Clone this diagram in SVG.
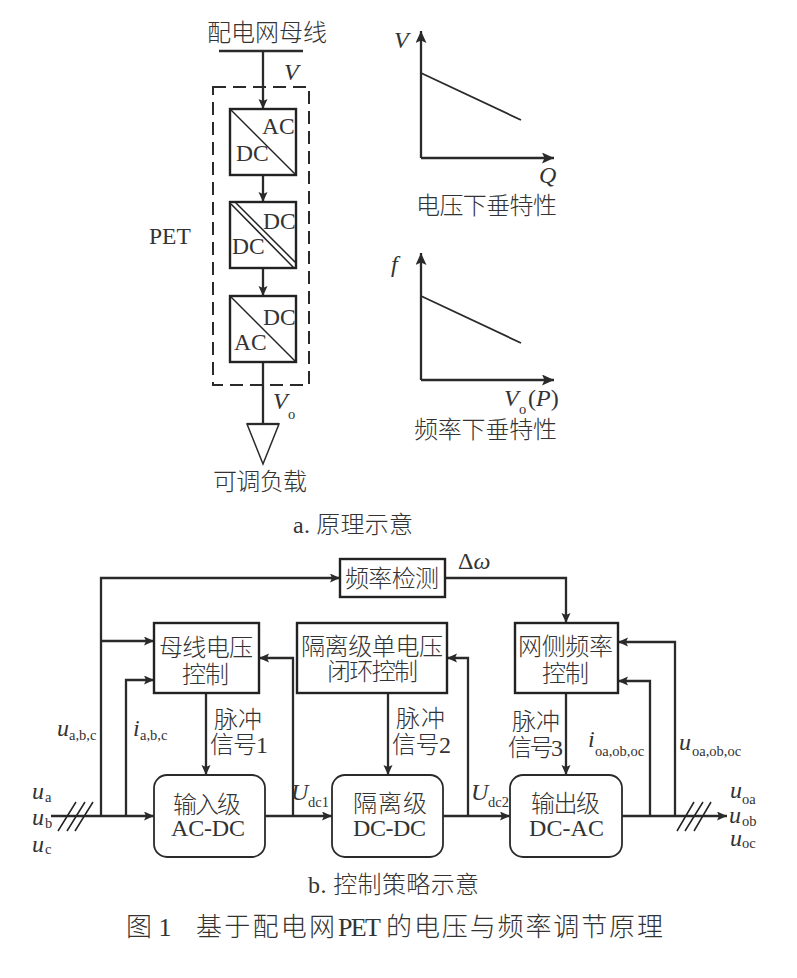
<svg xmlns="http://www.w3.org/2000/svg" width="797" height="978" viewBox="0 0 797 978">
<style>
text{font-family:"Liberation Serif","Noto Sans CJK SC",serif;font-size:23.5px;fill:#333}
.z{font-weight:300;font-size:24px}
.l{font-size:24px}
.i{font-style:italic;font-size:24px}
.s{font-size:14.5px;font-style:normal}
.n{fill:none;stroke:#222;stroke-width:2.4}
.w{fill:#fff;stroke:#222;stroke-width:2.4}
.r{fill:none;stroke:#2a2a2a;stroke-width:1.8}
.v{fill:#fff;stroke:#2a2a2a;stroke-width:1.5}
.t{fill:none;stroke:#222;stroke-width:1.5}
.c{fill:none;stroke:#2a2a2a;stroke-width:2.3}
.a{marker-end:url(#h)}
.b{marker-end:url(#g)}
.d{fill:none;stroke:#2a2a2a;stroke-width:2;stroke-dasharray:13 7}
.T{font-size:26px}
</style>
<defs>
<marker id="h" markerUnits="userSpaceOnUse" markerWidth="11" markerHeight="10" refX="10" refY="4.5" orient="auto"><path d="M0,0L10,4.5L0,9L2,4.5z" fill="#2a2a2a"/></marker>
<marker id="g" markerUnits="userSpaceOnUse" markerWidth="13" markerHeight="12" refX="12" refY="5.5" orient="auto"><path d="M0,0L12,5.5L0,11L2.5,5.5z" fill="#2a2a2a"/></marker>
</defs>
<rect width="797" height="978" fill="#fff"/>
<g id="connectors">
<path class="c" d="M219,51H303"/>
<path class="c a" d="M263,51V109"/>
<path class="c a" d="M263,175V202"/>
<path class="c a" d="M263,268V296"/>
<path class="c" d="M263,362V424"/>
<path class="c b" d="M421,158V31"/>
<path class="c b" d="M421,158H554"/>
<path class="r" d="M421,73L521,120"/>
<path class="c b" d="M421,380V253"/>
<path class="c b" d="M421,380H554"/>
<path class="r" d="M421,296L521,343"/>
<path class="c a" d="M51,816H154"/>
<path class="c a" d="M101,816V578H340"/>
<path class="c a" d="M101,641H154"/>
<path class="c a" d="M126,816V680H154"/>
<path class="t" d="M58,831L76,802M67,831L85,802M75,831L93,802"/>
<path class="c a" d="M206,693V775"/>
<path class="c a" d="M265,816H332"/>
<path class="c a" d="M293,816V658H259"/>
<path class="c a" d="M388,693V775"/>
<path class="c a" d="M443,816H510"/>
<path class="c a" d="M468,816V658H447"/>
<path class="c a" d="M445,578H566V623"/>
<path class="c a" d="M566,693V775"/>
<path class="c a" d="M622,816H727"/>
<path class="c a" d="M650,816V681H618"/>
<path class="c a" d="M675,816V642H618"/>
<path class="t" d="M677,831L694,802M685,831L703,802M694,831L711,802"/>
</g>
<g id="bus"><text class="z" x="207" y="41" textLength="120">配电网母线</text></g>
<g id="pet"><rect class="d" x="213" y="87" width="96" height="298"/><text x="149" y="244">PET</text></g>
<g id="conv1"><rect class="w" x="230" y="109" width="66" height="66"/><path class="t" d="M230,109L296,175"/><text x="262" y="134">AC</text><text x="236" y="161">DC</text></g>
<g id="conv2"><rect class="w" x="230" y="202" width="66" height="66"/><path class="t" d="M231,204L294,268M235,202L296,263"/><text x="263" y="229">DC</text><text x="232" y="254">DC</text></g>
<g id="conv3"><rect class="w" x="230" y="296" width="66" height="66"/><path class="t" d="M230,296L296,362"/><text x="263" y="325">DC</text><text x="234" y="350">AC</text></g>
<g id="load"><path class="v" d="M247,424H279L263,464z"/><path class="c" d="M247,424H279"/><text class="z" x="213" y="490" textLength="94">可调负载</text></g>
<g id="labels">
<text class="i" x="284" y="80">V</text>
<text class="i" x="273" y="409">V<tspan class="s" x="288" y="419">o</tspan></text>
<text class="z" x="293" y="533" textLength="120">a. 原理示意</text>
<text class="i" x="394" y="48">V</text>
<text class="i" x="539" y="183">Q</text>
<text class="z" x="416" y="214" textLength="141">电压下垂特性</text>
<text class="i" x="391" y="272">f</text>
<text class="i" x="504" y="406">V<tspan class="s" x="519" y="414">o</tspan><tspan style="font-style:normal" x="528" y="406">(</tspan>P<tspan style="font-style:normal">)</tspan></text>
<text class="z" x="414" y="438" textLength="143">频率下垂特性</text>
<text class="l" x="458" y="569">Δ<tspan class="i">ω</tspan></text>
<text class="i" x="57" y="736">u<tspan class="s" x="69" y="740">a,b,c</tspan></text>
<text class="i" x="133" y="736">i<tspan class="s" x="140" y="740">a,b,c</tspan></text>
<text class="i" x="32" y="799">u<tspan class="s" x="45" y="802">a</tspan></text>
<text class="i" x="32" y="825">u<tspan class="s" x="45" y="828">b</tspan></text>
<text class="i" x="32" y="852">u<tspan class="s" x="45" y="854">c</tspan></text>
<text class="z" x="214" y="728" textLength="48">脉冲</text>
<text class="z" x="210" y="753" textLength="58">信号1</text>
<text class="z" x="396" y="727" textLength="49">脉冲</text>
<text class="z" x="392" y="753" textLength="59">信号2</text>
<text class="z" x="512" y="730" textLength="48">脉冲</text>
<text class="z" x="508" y="756" textLength="55">信号3</text>
<text class="i" x="291" y="800">U<tspan class="s" x="308" y="807">dc1</tspan></text>
<text class="i" x="471" y="800">U<tspan class="s" x="488" y="807">dc2</tspan></text>
<text class="i" x="588" y="747">i<tspan class="s" x="595" y="756">oa,ob,oc</tspan></text>
<text class="i" x="679" y="750">u<tspan class="s" x="692" y="756">oa,ob,oc</tspan></text>
<text class="i" x="730" y="798">u<tspan class="s" x="742" y="804">oa</tspan></text>
<text class="i" x="729" y="823">u<tspan class="s" x="742" y="826">ob</tspan></text>
<text class="i" x="730" y="846">u<tspan class="s" x="742" y="848">oc</tspan></text>
<text class="z" x="308" y="893" textLength="171">b. 控制策略示意</text>
<text class="z T" x="126" y="936">图 1</text>
<text class="z T" x="196" y="936" textLength="139">基于配电网</text>
<text class="T" x="338" y="936" textLength="43">PET</text>
<text class="z T" x="386" y="936" textLength="277">的电压与频率调节原理</text>
</g>
<g id="freq-detect"><rect class="n" x="340" y="559" width="105" height="38"/><text class="z" x="345" y="587" textLength="94">频率检测</text></g>
<g id="bus-ctrl"><rect class="n" x="154" y="623" width="105" height="70"/><text class="z" x="159" y="656" textLength="94">母线电压</text><text class="z" x="182" y="683" textLength="47">控制</text></g>
<g id="iso-ctrl"><rect class="n" x="297" y="623" width="150" height="70"/><text class="z" x="301" y="655" textLength="142">隔离级单电压</text><text class="z" x="327" y="680" textLength="91">闭环控制</text></g>
<g id="grid-ctrl"><rect class="n" x="515" y="623" width="103" height="70"/><text class="z" x="518" y="655" textLength="95">网侧频率</text><text class="z" x="542" y="682" textLength="47">控制</text></g>
<g id="input"><rect class="r" x="154" y="775" width="111" height="82" rx="13"/><text class="z" x="173" y="813" textLength="68">输入级</text><text class="l" x="171" y="836" textLength="74">AC-DC</text></g>
<g id="iso"><rect class="r" x="332" y="775" width="111" height="82" rx="13"/><text class="z" x="353" y="812" textLength="74">隔离级</text><text class="l" x="353" y="836" textLength="73">DC-DC</text></g>
<g id="output"><rect class="r" x="510" y="775" width="112" height="82" rx="13"/><text class="z" x="531" y="812" textLength="69">输出级</text><text class="l" x="529" y="836" textLength="75">DC-AC</text></g>
</svg>
